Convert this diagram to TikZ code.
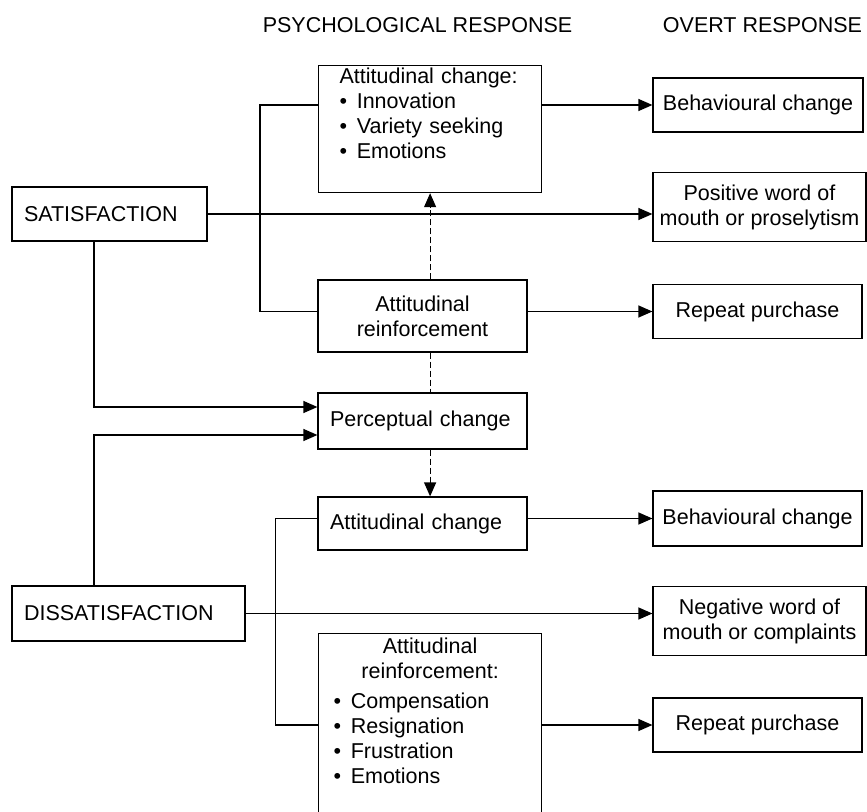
\documentclass[tikz,border=0pt]{standalone}
\usepackage{fontspec}
\setmainfont{Liberation Sans}
\usetikzlibrary{arrows.meta}
\newcommand{\itm}{\textbullet\hspace{0.45em}}

\begin{document}
\begin{tikzpicture}[x=1pt,y=-1pt,font=\fontsize{21.5}{25}\selectfont,line width=1.2pt,
    box/.style={draw,line width=1.2pt,inner ysep=3pt},
    lbox/.style={box,align=left,inner xsep=12pt,minimum height=54pt},
    cbox/.style={box,align=center,inner xsep=3pt,minimum width=209pt,minimum height=54pt},
    listbox/.style={box,anchor=north west},
    flow/.style={-{Triangle[length=14pt,width=12pt]}},
    hint/.style={dash pattern=on 6pt off 3pt}]
  \path[use as bounding box,clip] (0,0) rectangle (867,811);
  \coordinate (spine) at (94,0);
  % column headings
  \node (hpsy) at (417.5,25) {PSYCHOLOGICAL RESPONSE};
  \node (hovert) at (762.5,25) {OVERT RESPONSE};
  % left: the two outcomes
  \node[lbox,text width=171pt] (satis) at (109.5,214) {SATISFACTION};
  \node[lbox,text width=209pt,minimum height=55pt] (dissat) at (128.5,613.5) {DISSATISFACTION};
  % middle: psychological response
  \node[listbox,inner xsep=21pt,text width=181pt,text height=15pt,text depth=106pt] (attchgA) at (318,65)
    {Attitudinal change:\\ \itm Innovation\\ \itm Variety seeking\\ \itm Emotions};
  \node[cbox,minimum height=72pt] (attrefA) at (422.5,316) {Attitudinal\\ reinforcement};
  \node[lbox,text width=185pt,minimum height=56pt] (percep) at (422.5,421) {Perceptual change};
  \node[lbox,text width=185pt,minimum height=53pt] (attchgB) at (422.5,523.5) {Attitudinal change};
  \node[listbox,inner xsep=15pt,text width=193pt,text height=17pt,text depth=180pt] (attrefB) at (318,633)
    {{\centering Attitudinal\\ reinforcement:\par}\vspace{5pt}\raggedright
     \itm Compensation\\ \itm Resignation\\ \itm Frustration\\ \itm Emotions};
  % right: overt response
  \node[cbox,minimum width=210pt] (behavA) at (758,105) {Behavioural change};
  \node[cbox,minimum width=213pt,minimum height=69pt] (posWOM) at (759.5,207) {Positive word of\\ mouth or proselytism};
  \node[cbox] (repeatA) at (757.5,311.5) {Repeat purchase};
  \node[cbox,minimum height=55pt] (behavB) at (757.5,518.5) {Behavioural change};
  \node[cbox,minimum width=213pt,minimum height=69pt] (negWOM) at (759.5,621) {Negative word of\\ mouth or complaints};
  \node[cbox] (repeatB) at (757.5,725) {Repeat purchase};
  % satisfaction side
  \draw[flow] (attchgA.east |- behavA) -- (behavA.west);
  \draw[flow] (satis.east) -- (satis.east -| posWOM.west);
  \draw (attchgA.west |- behavA) -- ++(-58,0) |- (attrefA.west |- repeatA);
  \draw[flow] (attrefA.east |- repeatA) -- (repeatA.west);
  \draw[flow,hint] (attchgA.south |- attrefA.north) -- (attchgA.south);
  \draw[hint] (attchgA.south |- attrefA.south) -- (attchgA.south |- percep.north);
  \draw[flow] (spine |- satis.south) |- ([yshift=14pt]percep.west);
  % dissatisfaction side
  \draw[flow] (spine |- dissat.north) |- ([yshift=-14pt]percep.west);
  \draw[flow,hint] (attchgA.south |- percep.south) -- (attchgA.south |- attchgB.north);
  \draw[flow] (attchgB.east |- behavB) -- (behavB.west);
  \draw[flow] (dissat.east) -- (dissat.east -| negWOM.west);
  \draw (attchgB.west |- behavB) -- ++(-42,0) |- (attrefB.west |- repeatB);
  \draw[flow] (attrefB.east |- repeatB) -- (repeatB.west);
\end{tikzpicture}
\end{document}
